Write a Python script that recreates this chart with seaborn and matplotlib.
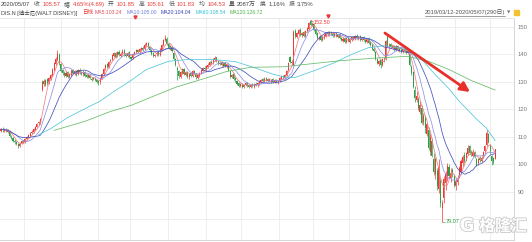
import numpy as np
import pandas as pd
import matplotlib
matplotlib.use("Agg")
import matplotlib.pyplot as plt
import matplotlib.patheffects as pe
from matplotlib.patches import Rectangle
import seaborn as sns

# ---------------- data ----------------
opens = [
    112.2, 112.9, 112.1, 112.7, 111.9, 112.0, 110.0, 109.6, 108.6, 108.1,
    107.4, 106.5, 107.6, 108.5, 108.1, 109.0, 109.9, 110.4, 111.4, 111.8,
    112.6, 113.7, 114.9, 115.1, 127.0, 130.4, 129.0, 130.9, 129.8, 131.0,
    132.6, 134.5, 136.6, 138.0, 139.8, 136.5, 134.2, 133.4, 132.3, 133.6,
    131.7, 132.6, 134.3, 133.0, 133.9, 132.8, 134.4, 133.7, 132.7, 133.5,
    132.4, 131.7, 132.5, 131.2, 130.9, 131.4, 130.8, 130.2, 129.8, 131.2,
    132.9, 134.9, 136.4, 135.5, 137.6, 138.1, 139.5, 140.6, 139.3, 141.0,
    139.6, 140.2, 141.5, 140.2, 139.4, 140.8, 139.2, 138.6, 140.3, 140.9,
    141.7, 140.8, 141.6, 142.5, 141.9, 143.4, 144.0, 142.8, 141.6, 140.4,
    139.5, 140.0, 140.9, 139.9, 141.7, 143.4, 145.2, 145.8, 143.9, 142.0,
    142.8, 140.6, 138.2, 135.0, 134.0, 131.8, 133.2, 134.6, 132.5, 133.6,
    131.6, 133.1, 132.0, 134.1, 133.0, 131.4, 132.3, 133.0, 134.1, 135.2,
    134.4, 135.5, 136.1, 137.4, 136.8, 138.0, 138.9, 137.7, 136.4, 137.2,
    135.8, 136.9, 135.6, 136.2, 134.0, 131.7, 132.8, 131.3, 130.4, 129.5,
    128.4, 129.3, 128.1, 128.8, 129.7, 128.8, 128.1, 129.1, 128.3, 129.4,
    128.7, 129.4, 130.0, 131.0, 130.2, 131.3, 130.4, 131.1, 130.1, 130.9,
    130.0, 130.7, 129.8, 130.3, 131.2, 132.2, 131.5, 132.5, 134.2, 138.9,
    137.2, 136.0, 148.6, 146.4, 147.6, 149.0, 147.0, 148.1, 146.9, 148.4,
    149.4, 152.2, 150.7, 151.0, 149.2, 147.8, 145.8, 146.7, 145.3, 146.0,
    146.9, 148.0, 147.1, 148.3, 147.6, 146.8, 147.9, 146.5, 147.3, 146.1,
    145.0, 145.9, 144.4, 146.0, 144.7, 145.4, 146.5, 145.5, 146.9, 145.8,
    146.6, 145.3, 146.2, 145.3, 144.5, 145.8, 144.5, 143.6, 142.1, 141.0,
    138.2, 136.5, 137.8, 136.0, 138.5, 138.5, 146.3, 143.0, 143.8, 142.4,
    143.2, 141.6, 143.0, 141.4, 142.4, 141.1, 142.1, 141.5, 140.5, 140.2,
    135.5, 133.5, 127.0, 123.5, 123.8, 119.0, 120.3, 115.2, 117.0, 111.0,
    112.5, 104.5, 108.5, 102.0, 96.5, 97.5, 91.0, 94.0, 84.0, 87.5,
    93.0, 95.5, 98.8, 95.0, 97.8, 95.8, 92.0, 93.5, 96.0, 97.2,
    100.5, 103.5, 101.5, 103.8, 106.5, 104.6, 103.0, 104.5, 102.0, 100.5,
    102.3, 101.3, 102.8, 104.8, 107.0, 111.0, 107.0, 103.0, 102.4, 101.85,
]
highs = [
    113.3, 113.4, 113.0, 113.1, 112.8, 112.5, 110.6, 110.0, 109.0, 108.5,
    107.8, 107.9, 108.7, 108.9, 109.5, 110.2, 111.0, 111.6, 112.3, 113.0,
    113.9, 115.0, 115.8, 117.0, 130.5, 131.0, 131.2, 131.4, 131.7, 132.9,
    135.2, 137.3, 139.0, 141.5, 140.4, 137.0, 134.8, 133.9, 133.9, 134.0,
    133.2, 134.6, 134.8, 134.3, 134.3, 134.8, 134.9, 134.1, 134.2, 134.0,
    132.8, 133.0, 132.9, 131.7, 131.9, 131.8, 131.2, 130.6, 131.8, 133.2,
    135.1, 136.6, 136.9, 137.7, 138.5, 140.1, 141.0, 141.0, 141.3, 141.5,
    140.8, 141.8, 141.9, 140.6, 141.0, 141.1, 139.6, 140.6, 141.4, 142.0,
    142.1, 142.2, 142.8, 142.9, 144.0, 144.7, 144.4, 143.2, 141.9, 140.8,
    140.3, 141.1, 141.3, 142.2, 143.9, 145.8, 147.0, 146.2, 144.3, 143.4,
    143.2, 141.0, 138.6, 135.6, 134.5, 133.9, 135.2, 135.0, 134.0, 134.0,
    133.4, 133.5, 134.4, 134.5, 133.4, 132.9, 133.5, 134.6, 135.4, 135.6,
    136.0, 136.7, 137.6, 137.8, 138.6, 139.4, 139.2, 138.0, 137.4, 137.6,
    137.2, 137.3, 136.8, 136.6, 134.4, 133.0, 133.2, 131.7, 130.8, 129.9,
    129.6, 129.7, 129.3, 130.0, 130.1, 129.2, 129.4, 129.5, 129.7, 129.8,
    129.9, 130.5, 131.2, 131.4, 131.6, 131.7, 131.3, 131.5, 131.1, 131.3,
    130.9, 131.1, 130.8, 131.7, 132.5, 132.6, 132.8, 134.4, 137.2, 139.4,
    137.8, 148.8, 149.2, 148.2, 149.3, 149.5, 148.3, 148.5, 149.0, 149.9,
    152.0, 152.5, 151.8, 151.4, 149.6, 148.2, 146.9, 147.1, 146.6, 147.4,
    148.3, 148.4, 148.6, 148.7, 148.0, 148.2, 148.3, 147.6, 147.7, 146.5,
    146.2, 146.3, 146.3, 146.4, 145.9, 146.7, 146.9, 147.2, 147.3, 146.9,
    147.0, 146.5, 146.6, 145.7, 146.1, 146.2, 144.9, 144.0, 142.6, 141.4,
    138.8, 138.0, 138.2, 138.7, 139.0, 145.2, 147.0, 144.0, 144.2, 143.5,
    143.6, 143.3, 143.4, 142.7, 142.8, 142.4, 142.5, 141.9, 141.8, 140.6,
    136.2, 134.0, 128.5, 126.5, 124.5, 123.0, 121.5, 118.6, 118.0, 115.5,
    113.5, 111.2, 109.5, 104.0, 102.5, 98.5, 102.0, 95.0, 87.0, 95.5,
    97.5, 100.5, 100.0, 98.5, 98.7, 96.5, 94.8, 96.0, 99.5, 101.8,
    103.5, 104.5, 104.5, 106.8, 107.0, 105.2, 105.4, 104.9, 102.3, 102.4,
    102.8, 103.0, 104.9, 107.0, 112.5, 111.2, 107.4, 103.3, 102.7, 105.61,
]
lows = [
    111.8, 111.9, 111.7, 111.6, 111.5, 109.8, 109.0, 108.0, 107.5, 106.8,
    105.9, 106.1, 107.2, 107.6, 107.8, 108.7, 109.5, 110.1, 111.0, 111.5,
    112.3, 113.4, 114.4, 114.8, 126.5, 128.6, 128.6, 129.0, 129.4, 130.6,
    132.2, 134.1, 136.2, 137.6, 136.2, 133.5, 132.6, 131.9, 131.8, 131.4,
    131.3, 132.2, 132.8, 132.6, 132.1, 132.4, 133.0, 132.4, 132.3, 131.8,
    131.4, 131.3, 130.9, 130.3, 130.5, 130.2, 129.5, 128.9, 129.4, 130.9,
    132.5, 134.5, 135.0, 135.1, 137.2, 137.8, 139.1, 138.8, 138.9, 139.4,
    139.2, 139.9, 139.6, 139.1, 139.0, 138.7, 138.0, 138.2, 139.9, 140.5,
    140.5, 140.4, 141.2, 141.3, 141.5, 143.0, 142.5, 141.0, 139.8, 139.1,
    139.0, 139.6, 139.4, 139.5, 141.3, 143.0, 144.8, 143.3, 141.8, 141.6,
    141.0, 138.1, 135.6, 130.8, 131.5, 131.4, 132.8, 132.5, 132.1, 131.3,
    131.2, 131.8, 131.7, 132.8, 131.0, 131.0, 131.9, 132.7, 133.8, 134.2,
    134.0, 135.1, 135.8, 136.5, 136.4, 137.6, 137.2, 136.1, 136.0, 135.6,
    135.4, 135.4, 135.2, 133.8, 131.4, 131.3, 130.8, 130.1, 129.0, 128.1,
    128.0, 127.9, 127.7, 128.4, 128.3, 127.8, 127.7, 128.0, 127.9, 128.4,
    128.3, 129.0, 129.6, 129.9, 129.8, 130.2, 130.0, 129.8, 129.7, 129.7,
    129.6, 129.5, 129.4, 129.9, 130.8, 131.2, 131.1, 132.1, 133.8, 136.9,
    136.2, 135.6, 146.1, 145.9, 147.2, 146.8, 146.5, 146.4, 146.5, 148.0,
    149.0, 150.4, 150.2, 148.6, 147.2, 145.5, 145.4, 144.9, 144.9, 145.6,
    146.5, 146.9, 146.7, 147.1, 146.5, 146.4, 146.3, 146.1, 145.6, 144.8,
    144.6, 144.1, 144.0, 144.4, 144.3, 145.0, 145.2, 145.1, 145.5, 145.4,
    145.0, 144.9, 144.8, 144.2, 144.1, 143.9, 143.0, 141.6, 140.8, 138.0,
    136.4, 135.9, 134.9, 135.6, 137.1, 138.1, 142.8, 142.5, 142.2, 142.0,
    141.4, 141.2, 141.1, 141.0, 140.6, 140.7, 140.9, 140.2, 140.1, 135.8,
    132.6, 127.6, 122.8, 122.5, 119.8, 118.2, 114.5, 114.3, 111.5, 110.2,
    105.0, 103.5, 102.5, 96.0, 94.5, 90.5, 89.5, 84.5, 79.07, 86.0,
    90.5, 94.0, 94.8, 93.5, 95.2, 91.5, 90.5, 92.5, 95.0, 96.5,
    99.5, 100.5, 101.0, 103.2, 103.6, 103.0, 102.5, 102.4, 99.2, 99.6,
    100.9, 100.8, 102.3, 104.2, 106.5, 107.6, 103.8, 99.8, 100.0, 101.83,
]
closes = [
    112.8, 112.3, 112.6, 112.0, 112.4, 110.2, 109.5, 108.4, 108.0, 107.2,
    106.6, 107.5, 108.3, 108.0, 109.1, 109.8, 110.6, 111.2, 111.9, 112.7,
    113.5, 114.6, 115.2, 116.6, 130.0, 129.2, 130.8, 129.5, 131.3, 132.4,
    134.8, 136.9, 138.5, 140.2, 136.8, 134.0, 133.1, 132.5, 133.4, 131.9,
    132.8, 134.1, 133.2, 133.8, 132.6, 134.3, 133.5, 132.9, 133.7, 132.2,
    131.9, 132.6, 131.3, 130.8, 131.5, 130.6, 129.9, 129.6, 131.4, 132.8,
    134.7, 136.2, 135.4, 137.3, 138.0, 139.7, 140.5, 139.2, 140.9, 139.8,
    140.3, 141.4, 140.0, 139.5, 140.6, 139.1, 138.5, 140.2, 141.0, 141.6,
    140.9, 141.8, 142.4, 141.7, 143.6, 144.1, 142.9, 141.5, 140.2, 139.6,
    139.9, 140.7, 139.8, 141.8, 143.5, 145.4, 145.9, 143.7, 142.2, 142.9,
    141.4, 138.5, 136.0, 134.5, 132.0, 133.5, 134.8, 132.9, 133.5, 131.8,
    133.0, 132.2, 134.0, 133.2, 131.6, 132.5, 133.1, 134.2, 135.0, 134.6,
    135.6, 136.3, 137.2, 136.9, 138.2, 138.8, 137.6, 136.5, 137.0, 136.0,
    136.8, 135.8, 136.4, 134.2, 131.9, 132.6, 131.2, 130.5, 129.4, 128.6,
    129.2, 128.3, 128.9, 129.6, 128.7, 128.2, 129.0, 128.4, 129.3, 128.8,
    129.5, 130.1, 130.8, 130.3, 131.2, 130.6, 130.9, 130.2, 130.7, 130.1,
    130.5, 129.9, 130.4, 131.3, 132.1, 131.6, 132.4, 134.0, 136.8, 137.4,
    136.9, 148.3, 146.6, 147.8, 148.9, 147.2, 147.9, 146.8, 148.6, 149.5,
    151.6, 150.9, 151.2, 149.0, 147.6, 146.0, 146.5, 145.4, 146.2, 147.0,
    147.9, 147.3, 148.2, 147.5, 146.9, 147.8, 146.7, 147.2, 146.0, 145.2,
    145.8, 144.5, 145.9, 144.8, 145.5, 146.3, 145.6, 146.8, 145.9, 146.5,
    145.4, 146.1, 145.2, 144.6, 145.7, 144.3, 143.4, 142.0, 141.2, 138.5,
    136.9, 137.6, 136.2, 138.3, 137.5, 144.8, 143.2, 143.6, 142.6, 143.1,
    141.8, 142.9, 141.5, 142.3, 141.0, 142.0, 141.3, 140.6, 141.4, 136.3,
    133.2, 128.0, 124.0, 125.0, 120.5, 121.5, 115.0, 117.5, 113.0, 114.5,
    106.0, 110.0, 103.0, 97.0, 101.8, 92.0, 99.0, 86.0, 85.8, 94.5,
    96.3, 99.2, 95.5, 96.9, 96.6, 92.3, 93.9, 94.4, 98.6, 101.2,
    102.5, 101.1, 104.0, 106.0, 104.2, 103.9, 104.6, 102.9, 99.8, 101.7,
    101.5, 102.4, 104.5, 106.5, 111.5, 108.2, 104.7, 101.1, 100.9, 105.57,
]

# MA60 / MA120 curves (candle index, value)
ma60_idx = [22, 30, 39, 50, 58, 66, 76, 85, 98, 110, 125, 137, 149, 158, 166,
            172, 185, 195, 205, 215, 225, 239, 247, 254, 262, 268, 278, 284, 289]
ma60_val = [110.7, 113.3, 117.0, 120.5, 123.0, 126.5, 130.5, 134.5, 137.5, 138.2,
            138.1, 137.4, 135.0, 133.0, 131.7, 131.6, 134.5, 137.0, 140.0, 142.5,
            143.2, 141.5, 137.5, 132.6, 127.5, 122.9, 116.5, 113.0, 108.6]
ma120_idx = [31, 49, 64, 76, 92, 102, 122, 132, 146, 165, 180, 200, 222, 238,
             250, 262, 275, 289]
ma120_val = [112.3, 115.6, 119.2, 121.4, 125.5, 128.0, 131.8, 133.8, 135.3, 135.5,
             136.5, 137.8, 138.8, 139.3, 137.5, 134.5, 130.5, 127.0]

grid_levels = [80, 90, 100, 110, 120, 130, 140, 150]
y_tick_labels = [90, 100, 110, 120, 130, 140, 150]   # 80 sits under the watermark
month_grid = [13.4, 35.1, 56.7, 75.4, 97.6, 119.9, 140.3, 162.6, 182.4, 203.5,
              233.3, 265.5, 286.0]

header_row1 = [("2020/05/07", "d"), ("收", "l"), ("105.57", "r"), ("幅", "l"),
               ("4.65%(4.69)", "r"), ("开", "l"), ("101.85", "r"), ("高", "l"),
               ("105.61", "r"), ("低", "l"), ("101.83", "r"), ("均", "l"),
               ("104.53", "r"), ("量", "l"), ("2087万", "d"), ("换", "l"),
               ("1.16%", "d"), ("振", "l"), ("3.75%", "d")]
stock_label = "DIS.N [迪士尼(WALT DISNEY)]"
period_label = "日线"
ma_labels = ["MA5:103.24", "MA10:105.00", "MA20:104.04", "MA60:108.54", "MA120:126.72"]
range_label = "2019/03/12-2020/05/07(290日)"
peak_label = "152.50"
trough_label = "79.07"

# ---------------- styling ----------------
sns.set_theme(style="white")
plt.rcParams['font.family'] = ['Liberation Sans', 'Noto Sans CJK SC', 'DejaVu Sans']

RED = "#ec3b36"
GREEN = "#2f9e44"
MA_COLORS = ["#ef7f86", "#8c93e6", "#4152bd", "#52c6d6", "#66bb66"]
MA_TEXT = ["#e0515c", "#6f7fd8", "#3040b0", "#33bfd0", "#4cb04c"]

df = pd.DataFrame({"i": np.arange(len(closes)), "open": opens, "high": highs,
                   "low": lows, "close": closes})
for n in (5, 10, 20):
    df[f"ma{n}"] = df["close"].rolling(n, min_periods=1).mean()
up = df["close"] >= df["open"]
cols = np.where(up, RED, GREEN)

W, H = 532, 242
fig = plt.figure(figsize=(W / 100, H / 100), dpi=100)
fig.patch.set_facecolor("white")
ax = fig.add_axes([0, 2 / H, 514 / W, 222 / H])
ax.set_facecolor("white")

xmin, xmax = -0.6, 300.0
ymin = 150 - (240 - 27) / 2.743
ymax = 150 + (27 - 18) / 2.743
ax.set_xlim(xmin, xmax)
ax.set_ylim(ymin, ymax)

for v in grid_levels:
    ax.axhline(v, color="#ebebeb", lw=0.6, zorder=0)
for m in month_grid:
    ax.axvline(m, color="#ebebeb", lw=0.6, zorder=0)

# candles
ax.vlines(df["i"], df["low"], df["high"], colors=cols, lw=0.5, zorder=2)
body_bottom = np.minimum(df["open"], df["close"])
body_h = np.maximum(np.abs(df["close"] - df["open"]), 0.15)
ax.bar(df["i"], body_h, bottom=body_bottom, width=0.62, color=cols, linewidth=0, zorder=2)

# moving averages
for n, c in zip((5, 10, 20), MA_COLORS[:3]):
    sns.lineplot(data=df, x="i", y=f"ma{n}", ax=ax, color=c, lw=0.55, zorder=3, legend=False)
sns.lineplot(x=ma60_idx, y=ma60_val, ax=ax, color=MA_COLORS[3], lw=0.55, zorder=3)
sns.lineplot(x=ma120_idx, y=ma120_val, ax=ax, color=MA_COLORS[4], lw=0.55, zorder=3)

# axes look
ax.set_xlabel("")
ax.set_ylabel("")
ax.set_xticks([])
ax.yaxis.tick_right()
ax.set_yticks(y_tick_labels)
ax.set_yticklabels([str(v) for v in y_tick_labels])
ax.tick_params(axis="y", length=0, pad=2.5, labelsize=4.2, labelcolor="#777777")
ax.spines["left"].set_visible(False)
ax.spines["right"].set_color("#cfcfcf")
ax.spines["top"].set_color("#e2e2e2")
ax.spines["bottom"].set_color("#cfcfcf")
for s in ("right", "top", "bottom"):
    ax.spines[s].set_linewidth(0.6)

# peak / trough labels
pk = int(np.argmax(df["high"]))
tr = int(np.argmin(df["low"]))
ax.plot([pk, pk + 1.6], [df["high"][pk], df["high"][pk] - 0.6], color=RED, lw=0.4, zorder=4)
ax.text(pk + 1.8, df["high"][pk] - 0.7, peak_label, color=RED, fontsize=4.0,
        ha="left", va="center", zorder=5)
ax.plot([tr, tr + 1.8], [df["low"][tr], df["low"][tr]], color=GREEN, lw=0.4, zorder=4)
ax.text(tr + 2.0, df["low"][tr], trough_label, color=GREEN, fontsize=4.0,
        ha="left", va="center", zorder=5)

# event markers at top
ax.plot([78.3, 191.2], [ymax + 0.4, ymax + 0.8], ls="none", marker="v", ms=2.2,
        color=RED, clip_on=False, zorder=6)

# hand-drawn red arrow
ax.annotate("", xy=(274.3, 126.3), xytext=(224.5, 147.8),
            arrowprops=dict(arrowstyle="-|>,head_length=0.7,head_width=0.35",
                            color="#e8302a", lw=2.0, mutation_scale=8,
                            shrinkA=0, shrinkB=0), zorder=7)

# ---------------- header ----------------
fig.canvas.draw()
renderer = fig.canvas.get_renderer()
pal = {"d": "#444444", "l": "#555555", "r": RED}


def place(pieces, x0, ypix, gaps):
    x = x0
    for k, (txt, col, fs) in enumerate(pieces):
        t = fig.text(x / W, 1 - ypix / H, txt, color=col, fontsize=fs,
                     ha="left", va="center")
        w = t.get_window_extent(renderer).width
        x += w + gaps[k]
    return x


row1 = [(t, pal[c], 4.2) for t, c in header_row1]
g1 = [2.6 if c == "l" else 3.6 for _, c in header_row1]
place(row1, 1, 4.5, g1)

row2 = [(stock_label, "#444444", 4.0), (period_label, RED, 4.0)]
row2 += [(lab, c, 3.7) for lab, c in zip(ma_labels, MA_TEXT)]
g2 = [4.5, 2.0, 4.0, 4.0, 4.0, 4.0, 0]
place(row2, 1, 12.5, g2)

rt = fig.text(505 / W, 1 - 12.5 / H, range_label, color="#555555", fontsize=4.2,
              ha="right", va="center")
bb = rt.get_window_extent(renderer)
fig.add_artist(plt.Line2D([bb.x0 / W, bb.x1 / W], [(H - 16) / H, (H - 16) / H],
                          color="#555555", lw=0.4))
fig.text(507 / W, 1 - 12.5 / H, "▼", color="#777777", fontsize=3.2,
         ha="left", va="center", family=["DejaVu Sans"])
fig.add_artist(Rectangle((514 / W, (H - 15) / H), 5 / W, 5 / H, color="#f2c230",
                         transform=fig.transFigure))

# watermark
fig.text(467 / W, 1 - 226 / H, "G", color="white", fontsize=13, fontweight="bold",
         ha="center", va="center", family=["DejaVu Sans"],
         path_effects=[pe.withStroke(linewidth=1.2, foreground="#c9c9c9")])
fig.text(479 / W, 1 - 226 / H, "格隆汇", color="white", fontsize=11.5, fontweight="bold",
         ha="left", va="center", family=["Noto Sans CJK SC"],
         path_effects=[pe.withStroke(linewidth=1.2, foreground="#c9c9c9")])

fig.savefig("out.png", dpi=100, facecolor="white")
